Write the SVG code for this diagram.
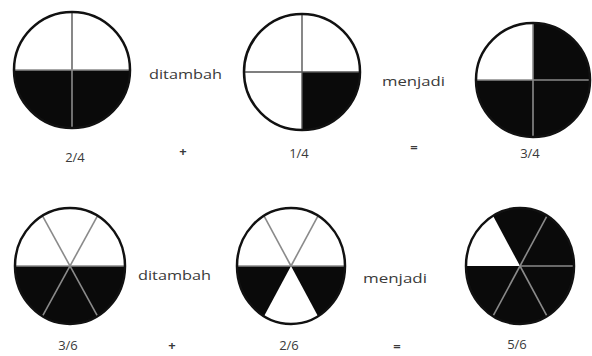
<svg xmlns="http://www.w3.org/2000/svg" width="592" height="356" viewBox="0 0 592 356">
<style>
.fill{fill:#0a0a0a}
.rim{fill:none;stroke:#111;stroke-width:2.5}
.div{stroke:#8a8a8a;stroke-width:1.6;fill:none}
.divd{stroke:#555;stroke-width:1.4;fill:none}
.lbl{font-family:"Open Sans","Noto Sans",sans-serif;font-size:13px;fill:#3a3a3a}
.op{font-family:"Open Sans","Noto Sans",sans-serif;font-size:13px;font-weight:bold;fill:#3a3a3a;text-anchor:middle}
.frac{font-family:"Open Sans","Noto Sans",sans-serif;font-size:13px;fill:#3a3a3a;text-anchor:middle}
</style>
<rect width="592" height="356" fill="#fff"/>

<g id="c24">
<path class="fill" d="M14,70 A58,58 0 0 0 130,70 Z"/>
<line class="divd" x1="72" y1="12" x2="72" y2="70"/>
<line class="div" x1="72" y1="70" x2="72" y2="128"/>
<line class="div" x1="14" y1="70" x2="130" y2="70"/>
<circle class="rim" cx="72" cy="70" r="58"/>
</g>

<g id="c14">
<path class="fill" d="M302,72 L360,72 A58,58 0 0 1 302,130 Z"/>
<line class="divd" x1="302" y1="14" x2="302" y2="130"/>
<line class="divd" x1="244" y1="72" x2="360" y2="72"/>
<circle class="rim" cx="302" cy="72" r="58"/>
</g>

<g id="c34">
<path class="fill" d="M533,80 L533,23 A57,57 0 1 1 476,80 Z"/>
<line class="div" x1="533" y1="23" x2="533" y2="137"/>
<line class="div" x1="476" y1="80" x2="590" y2="80"/>
<circle class="rim" cx="533" cy="80" r="57"/>
</g>

<g id="c36">
<path class="fill" d="M15,266 A55,58 0 0 0 125,266 Z"/>
<line class="div" x1="42.5" y1="215.8" x2="97.5" y2="316.2"/>
<line class="div" x1="97.5" y1="215.8" x2="42.5" y2="316.2"/>
<line class="div" x1="15" y1="266" x2="125" y2="266"/>
<ellipse class="rim" cx="70" cy="266" rx="55" ry="58"/>
</g>

<g id="c26">
<path class="fill" d="M291,266 L237,266 A54,58 0 0 0 264,316.2 Z"/>
<path class="fill" d="M291,266 L318,316.2 A54,58 0 0 0 345,266 Z"/>
<line class="div" x1="291" y1="266" x2="264" y2="215.8"/>
<line class="div" x1="291" y1="266" x2="318" y2="215.8"/>
<line class="div" x1="237" y1="266" x2="345" y2="266"/>
<ellipse class="rim" cx="291" cy="266" rx="54" ry="58"/>
</g>

<g id="c56">
<ellipse class="fill" cx="520" cy="266" rx="54" ry="58"/>
<path fill="#fff" d="M520,266 L466,266 A54,58 0 0 1 493,215.8 Z"/>
<line class="div" x1="520" y1="266" x2="547" y2="215.8"/>
<line class="div" x1="520" y1="266" x2="574" y2="266"/>
<line class="div" x1="520" y1="266" x2="493" y2="316.2"/>
<line class="div" x1="520" y1="266" x2="547" y2="316.2"/>
<ellipse class="rim" cx="520" cy="266" rx="54" ry="58"/>
</g>

<g id="labels">
<text class="lbl" x="149" y="79" textLength="73" lengthAdjust="spacingAndGlyphs">ditambah</text>
<text class="lbl" x="382" y="86" textLength="63" lengthAdjust="spacingAndGlyphs">menjadi</text>
<text class="lbl" x="138" y="280" textLength="73" lengthAdjust="spacingAndGlyphs">ditambah</text>
<text class="lbl" x="363" y="283" textLength="64" lengthAdjust="spacingAndGlyphs">menjadi</text>

<text class="frac" x="75" y="162">2/4</text>
<text class="op" x="183" y="156">+</text>
<text class="frac" x="299" y="158">1/4</text>
<text class="op" x="414" y="152">=</text>
<text class="frac" x="530" y="158">3/4</text>

<text class="frac" x="68" y="350">3/6</text>
<text class="op" x="172" y="350">+</text>
<text class="frac" x="289" y="350">2/6</text>
<text class="op" x="397" y="351">=</text>
<text class="frac" x="517" y="349">5/6</text>
</g>
</svg>
